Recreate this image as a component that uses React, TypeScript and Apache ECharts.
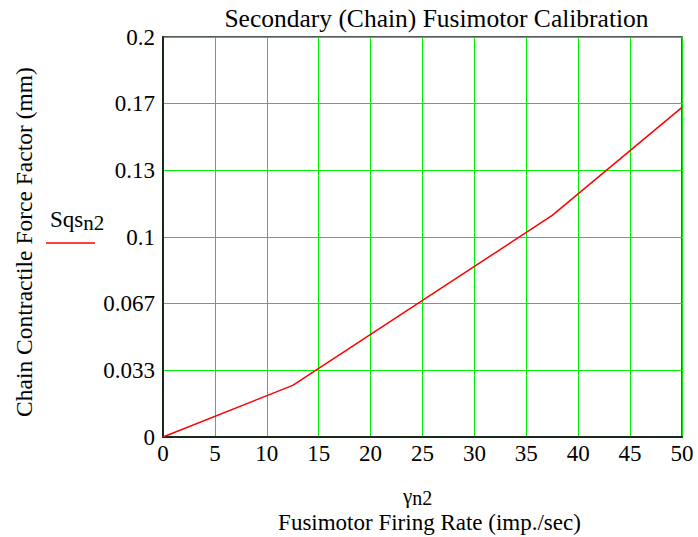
import React, { useEffect, useRef } from "react";
import * as echarts from "echarts";

const xValues = [0, 12.5, 37.5, 50];
const sqsValues = [0, 0.0258, 0.1108, 0.1648];
const yTickLabels = ["0", "0.033", "0.067", "0.1", "0.13", "0.17", "0.2"];
const titleText = "Secondary (Chain) Fusimotor Calibration";
const yName = "Chain Contractile Force Factor (mm)";
const xName = "Fusimotor Firing Rate (imp./sec)";

const FONT = "'Liberation Serif', 'Times New Roman', serif";

export default function App() {
  const ref = useRef<HTMLDivElement>(null);
  useEffect(() => {
    if (!ref.current) return;
    const chart = echarts.init(ref.current, null, { renderer: "svg" });
    const step = 0.2 / 6;
    chart.setOption({
      animation: false,
      backgroundColor: "#ffffff",
      textStyle: { fontFamily: FONT },
      grid: { left: 163, right: 16, top: 37, bottom: 100, show: true, borderColor: "#1a2a1a", borderWidth: 1.5 },
      xAxis: {
        type: "value",
        min: 0,
        max: 50,
        interval: 5,
        axisLine: { show: true, onZero: false, lineStyle: { color: "#1a2a1a", width: 2 } },
        axisTick: { show: false },
        splitLine: { show: true, lineStyle: { color: "#00ee00", width: 1 } },
        axisLabel: { fontFamily: FONT, fontSize: 23, color: "#000", margin: 5 },
      },
      yAxis: {
        type: "value",
        min: 0,
        max: 0.2,
        interval: step,
        axisLine: { show: true, onZero: false, lineStyle: { color: "#1a2a1a", width: 2 } },
        axisTick: { show: false },
        splitLine: { show: true, lineStyle: { color: "#00ee00", width: 1 } },
        axisLabel: {
          fontFamily: FONT,
          fontSize: 23,
          color: "#000",
          margin: 8,
          formatter: (v: number) => yTickLabels[Math.round(v / step)] ?? "",
        },
      },
      graphic: [
        {
          type: "text",
          style: {
            x: 436.5,
            y: 18,
            text: titleText,
            textAlign: "center",
            textVerticalAlign: "middle",
            fontFamily: FONT,
            fontSize: 25.5,
            fill: "#000",
          },
        },
        {
          type: "text",
          rotation: Math.PI / 2,
          x: 24,
          y: 242,
          style: {
            x: 0,
            y: 0,
            text: yName,
            textAlign: "center",
            textVerticalAlign: "middle",
            fontFamily: FONT,
            fontSize: 23.5,
            fill: "#000",
          },
        },
        {
          type: "text",
          style: {
            x: 403,
            y: 483,
            text: "{g|γ}{s|n2}",
            fontFamily: FONT,
            fontSize: 21,
            rich: {
              g: { fontFamily: FONT, fontSize: 21, fill: "#000" },
              s: { fontFamily: FONT, fontSize: 20, fill: "#000", padding: [5, 0, 0, 0] },
            },
          },
        },
        {
          type: "text",
          style: {
            x: 429.5,
            y: 522,
            text: xName,
            textAlign: "center",
            textVerticalAlign: "middle",
            fontFamily: FONT,
            fontSize: 23,
            fill: "#000",
          },
        },
        {
          type: "text",
          style: {
            x: 50,
            y: 205,
            text: "{a|Sqs}{b|n2}",
            fontFamily: FONT,
            fontSize: 23,
            rich: {
              a: { fontFamily: FONT, fontSize: 23, fill: "#000" },
              b: { fontFamily: FONT, fontSize: 21, fill: "#000", padding: [7, 0, 0, 0] },
            },
          },
        },
        {
          type: "line",
          shape: { x1: 46, y1: 243, x2: 95, y2: 243 },
          style: { stroke: "#ff0000", lineWidth: 1.5 },
        },
      ],
      series: [
        {
          type: "line",
          data: xValues.map((x, i) => [x, sqsValues[i]]),
          showSymbol: false,
          lineStyle: { color: "#ff0000", width: 1.5 },
        },
      ],
    });
    return () => chart.dispose();
  }, []);
  return (
    <div
      ref={ref}
      style={{ position: "absolute", left: 0, top: 0, width: 698, height: 537 }}
    />
  );
}
